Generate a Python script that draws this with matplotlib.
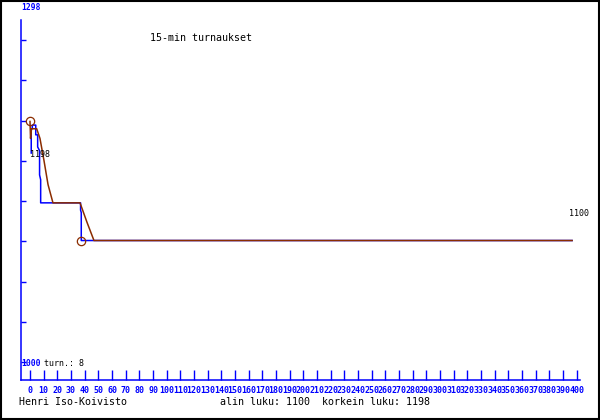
import matplotlib
matplotlib.use('Agg')
import matplotlib.pyplot as plt
from matplotlib.patches import Rectangle

C_BLUE = '#0000ff'
C_BROWN = '#8b2c00'
MONO = 'DejaVu Sans Mono'

# rating history (game index vs rating)
blue_x = [0.9, 0.9, 1.7, 1.7, 4.2, 4.2, 5.6, 5.6, 7.0, 7.0, 7.8, 7.8,
          37.0, 37.0, 37.5, 37.5, 396.6]
blue_y = [1172, 1192, 1192, 1195, 1195, 1187, 1187, 1177, 1174, 1154, 1150, 1131,
          1131, 1125, 1123, 1100, 1100]

# smoothed curve
brown_x = [0, 0.4, 1.1, 4.9, 7.3, 10.2, 13.2, 16.8, 36.6, 41.7, 46.8, 396.6]
brown_y = [1198, 1184, 1192, 1192, 1184, 1166, 1146, 1131, 1131, 1115, 1100, 1100]

max_pt = (0, 1198)
min_pt = (37, 1100)

y_low, y_high = 1000, 1298
x_ticks = list(range(0, 401, 10))
n_tournaments = 8

fig = plt.figure(figsize=(6, 4.2), dpi=100)
fig.patch.set_facecolor('white')

# axes placed in pixels: x 21..580, y 20..380
ax = fig.add_axes([21 / 600, 40 / 420, 559 / 600, 360 / 420])
ax.set_xlim(-6.585, 402.4)
ax.set_ylim(985.2, 1281.5)
ax.set_facecolor('none')

for s in ['top', 'right']:
    ax.spines[s].set_visible(False)
for s in ['left', 'bottom']:
    ax.spines[s].set_color(C_BLUE)
    ax.spines[s].set_linewidth(1.1)

ax.set_xticks(x_ticks)
ax.set_xticklabels([str(t) for t in x_ticks], fontsize=6, family=MONO,
                   color=C_BLUE, fontweight='bold')
ax.tick_params(axis='x', direction='in', length=7.2, width=1.0, color=C_BLUE, pad=4.5)
step = (y_high - y_low) / 9
ax.set_yticks([y_low + k * step for k in range(9)])
ax.set_yticklabels([])
ax.tick_params(axis='y', direction='in', length=3.6, width=1.0, color=C_BLUE)

ax.plot(blue_x, blue_y, color=C_BLUE, lw=1.1)
ax.plot(brown_x, brown_y, color=C_BROWN, lw=1.1)
ax.plot(*max_pt, 'o', mfc='none', mec=C_BROWN, ms=6, mew=0.9)
ax.plot(*min_pt, 'o', mfc='none', mec=C_BROWN, ms=6, mew=0.9)

ax.annotate(str(max_pt[1]), xy=max_pt, xytext=(10, -33), textcoords='offset pixels',
            ha='center', va='center', fontsize=6, family=MONO, color='black')
ax.annotate(str(brown_y[-1]), xy=(brown_x[-1], brown_y[-1]), xytext=(7, 27),
            textcoords='offset pixels', ha='center', va='center',
            fontsize=6, family=MONO, color='black')

# texts in pixel positions
def ftext(px, py, s, **kw):
    fig.text(px / 600, 1 - py / 420, s, family=MONO, **kw)

ftext(21, 8, str(y_high), fontsize=5.8, color=C_BLUE, fontweight='bold', va='center')
ftext(21, 363, str(y_low), fontsize=5.8, color=C_BLUE, fontweight='bold', va='center')
ftext(44, 363, 'turn.: %d' % n_tournaments, fontsize=6, color='black', va='center')
ftext(201, 38, '15-min turnaukset', fontsize=7.2, color='black', ha='center', va='center')
ftext(19, 402, 'Henri Iso-Koivisto', fontsize=7.2, color='black', va='center')
ftext(220, 402, 'alin luku: %d  korkein luku: %d' % (min(brown_y), max(brown_y)),
      fontsize=7.2, color='black', va='center')

# outer frame
fig.add_artist(Rectangle((0.5 / 600, 1.5 / 420), 598 / 600, 418 / 420,
                         transform=fig.transFigure, fill=False,
                         edgecolor='black', linewidth=1.5))

fig.savefig('out.png', dpi=100, facecolor='white')
